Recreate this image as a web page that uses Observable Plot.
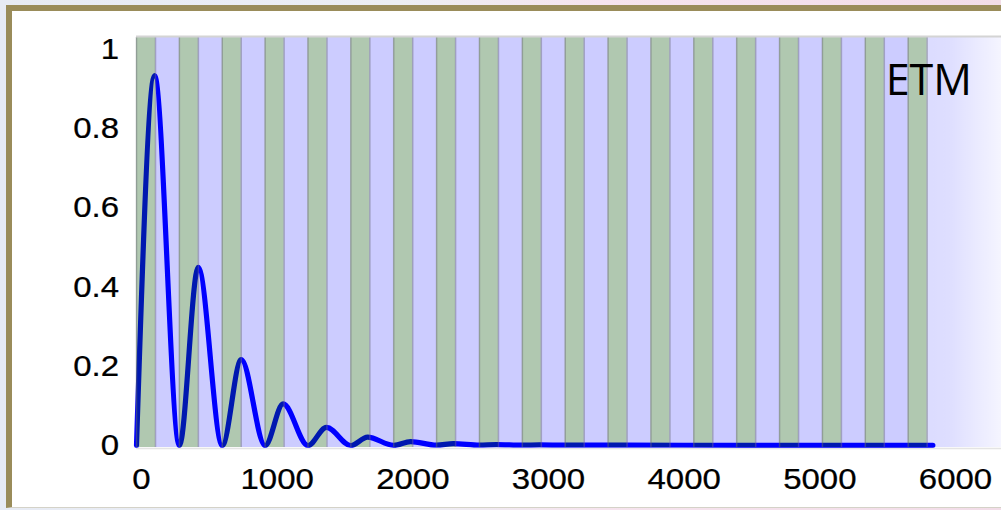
<!DOCTYPE html>
<html>
<head>
<meta charset="utf-8">
<script src="https://cdn.jsdelivr.net/npm/d3@7"></script>
<script src="https://cdn.jsdelivr.net/npm/@observablehq/plot@0.6"></script>
<style>
html, body { margin: 0; padding: 0; }
body {
  width: 1001px; height: 510px; position: relative; overflow: hidden;
  background: linear-gradient(to right, #e7ebf4 0%, #eceef3 40%, #f6e4ee 60%, #f2dde8 100%);
}
#frame {
  position: absolute; left: 6px; top: 5px; width: 995px; height: 503px;
  box-sizing: border-box; background: #fff;
  border-left: 6px solid #9a8c5a; border-top: 6px solid #9a8c5a;
  border-bottom: 1px solid #d4d2c8;
}
#chart { position: absolute; left: 0; top: 0; }
</style>
</head>
<body>
<div id="frame"></div>
<div id="chart"></div>
<script>
// ---- data (zeros and peaks of the response) ----
const curveX = [0, 133, 316, 455, 632, 772, 948, 1081, 1264, 1400, 1580, 1703, 1896, 2020, 2212, 2336, 2528, 2652, 2844, 2970, 3160, 3290, 3600, 4500, 5870];
const curveY = [0, 0.934, 0, 0.45, 0, 0.217, 0, 0.105, 0, 0.046, 0, 0.021, 0.0005, 0.010, 0.0008, 0.005, 0.0008, 0.0025, 0.0008, 0.0015, 0.0008, 0.001, 0.0008, 0.0006, 0.0005];

const greenStart = [0, 316, 632, 948, 1264, 1580, 1896, 2212, 2528, 2844, 3160, 3476, 3792, 4108, 4424, 4740, 5056, 5372, 5688];
const greenWidth = 140;
const stripeEnd = 5828;

const xTicks = [0, 1000, 2000, 3000, 4000, 5000, 6000];
const yTicks = [0, 0.2, 0.4, 0.6, 0.8, 1];
const labelText = ["ETM"];
const labelX = [5522];
const labelY = [0.919];

// ---- derived tables ----
const curve = curveX.map((x, i) => ({x, y: curveY[i]}));
const greens = greenStart.map(s => ({x1: s, x2: s + greenWidth}));
const lavenders = greenStart.slice(0, -1).map((s, i) => ({x1: s + greenWidth, x2: greenStart[i + 1]}));
const edges = greenStart.flatMap(s => [s, s + greenWidth]);
const labels = labelText.map((t, i) => ({t, x: labelX[i], y: labelY[i]}));

const yMin = -0.005, yMax = 1.03, xMax = 6376;

const chart = Plot.plot({
  width: 1001,
  height: 510,
  marginLeft: 136,
  marginRight: 0,
  marginTop: 37,
  marginBottom: 63,
  style: {background: "transparent", color: "#000", fontFamily: "'Liberation Sans', Arial, sans-serif"},
  x: {domain: [0, xMax], label: null},
  y: {domain: [yMin, yMax], label: null},
  marks: [
    Plot.line(curve, {x: "x", y: "y", stroke: "#0000ff", strokeWidth: 5.2, curve: "monotone-x"}),
    Plot.rect(greens, {x1: "x1", x2: "x2", y1: yMin, y2: yMax, fill: "#004d00", fillOpacity: 0.31}),
    Plot.rect(lavenders, {x1: "x1", x2: "x2", y1: yMin, y2: yMax, fill: "#0000ff", fillOpacity: 0.2}),
    Plot.rect([{x1: stripeEnd, x2: xMax}], {x1: "x1", x2: "x2", y1: yMin, y2: yMax, fill: "url(#fade)"}),
    Plot.ruleX(edges, {y1: yMin, y2: yMax, stroke: "#6a6a78", strokeOpacity: 0.45, strokeWidth: 1.5}),
    Plot.ruleY([yMax], {stroke: "#d4d4d4", strokeWidth: 2, dy: -1}),
    Plot.ruleY([yMin], {stroke: "#e4e4e4", strokeWidth: 1.5, dy: 1}),
    Plot.text(labels, {x: "x", y: "y", text: "t", textAnchor: "start", fontSize: 43, fontFamily: "'Open Sans', sans-serif", fill: "#000"}),
    Plot.axisX({ticks: xTicks, tickSize: 0, tickPadding: 20, dx: 5, tickFormat: d => String(d), label: null}),
    Plot.axisY({ticks: yTicks, tickSize: 0, tickPadding: 17.5, tickFormat: d => String(d), label: null})
  ]
});

document.getElementById("chart").appendChild(chart);

const svg = d3.select(chart.tagName.toLowerCase() === "svg" ? chart : chart.querySelector("svg"));
// gradient for the faded area right of the stripes
const grad = svg.insert("defs", ":first-child").append("linearGradient")
  .attr("id", "fade").attr("x1", "0").attr("x2", "1").attr("y1", "0").attr("y2", "0");
grad.append("stop").attr("offset", "0%").attr("stop-color", "#0000ff").attr("stop-opacity", 0.14);
grad.append("stop").attr("offset", "30%").attr("stop-color", "#0000ff").attr("stop-opacity", 0.13);
grad.append("stop").attr("offset", "100%").attr("stop-color", "#0000ff").attr("stop-opacity", 0.04);

// tick label font, slightly widened as in the reference
svg.selectAll('g[aria-label="x-axis tick label"] text, g[aria-label="y-axis tick label"] text').each(function () {
  this.style.fontSize = "30px";
  this.style.fontFamily = "'Liberation Sans', Arial, sans-serif";
  this.style.fill = "#000";
  this.style.stroke = "#000";
  this.style.strokeWidth = "0.25px";
  const t = this.getAttribute("transform");
  if (t) this.setAttribute("transform", t + " scale(1.1,1)");
});
</script>
</body>
</html>
